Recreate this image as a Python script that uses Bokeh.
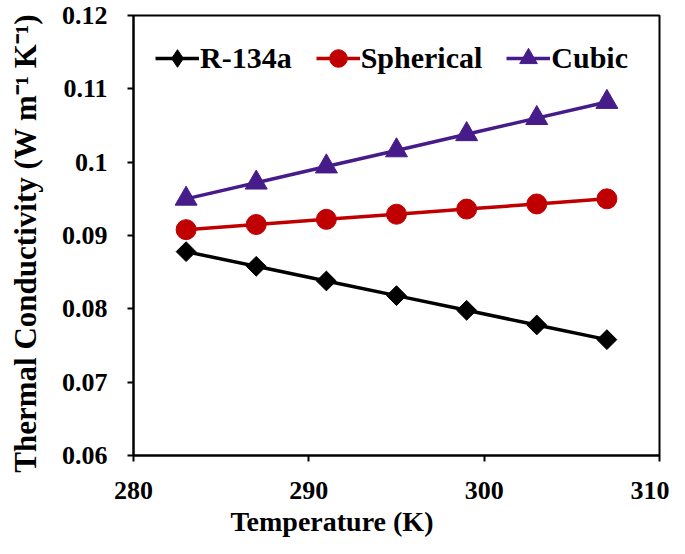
from bokeh.plotting import figure
from bokeh.models import Range1d, FixedTicker, Legend, LegendItem, Title
from bokeh.embed import file_html
from bokeh.resources import INLINE
import math

# ---- data ----
temperature = [283, 287, 291, 295, 299, 303, 307]
r134a = [0.0878, 0.0858, 0.0838, 0.0818, 0.0798, 0.0778, 0.0758]
spherical = [0.0908, 0.0915, 0.0922, 0.0929, 0.0936, 0.0943, 0.0950]
cubic = [0.0950, 0.0972, 0.0994, 0.1016, 0.1038, 0.1060, 0.1082]
series_names = ["R-134a", "Spherical", "Cubic"]
x_ticks = [280, 290, 300, 310]
y_ticks = [0.06, 0.07, 0.08, 0.09, 0.1, 0.11, 0.12]
y_tick_labels = ["0.06", "0.07", "0.08", "0.09", "0.1", "0.11", "0.12"]
x_title = "Temperature  (K)"
y_title = "Thermal  Conductivity  (W m\u207b\u00b9 K\u207b\u00b9)"

FONT = "Liberation Serif"
BLACK = "#000000"
RED = "#C00000"
PURPLE = "#461C8A"

p = figure(width=669, height=538, output_backend="svg", toolbar_location=None,
           x_range=Range1d(280, 310), y_range=Range1d(0.06, 0.12),
           min_border_left=133, min_border_right=10, min_border_top=15, min_border_bottom=83)
p.xgrid.visible = False
p.ygrid.visible = False
p.outline_line_color = "black"
p.outline_line_width = 2
p.background_fill_color = "white"
p.border_fill_color = "white"

for ax in (p.xaxis[0], p.yaxis[0]):
    ax.axis_line_width = 2
    ax.axis_line_color = "black"
    ax.major_tick_line_width = 2
    ax.major_tick_in = 0
    ax.major_tick_out = 6
    ax.minor_tick_line_color = None
    ax.major_label_text_font = FONT
    ax.major_label_text_font_style = "bold"
    ax.major_label_text_font_size = "26px"
    ax.major_label_text_color = "black"
    ax.axis_label_text_font = FONT
    ax.axis_label_text_font_style = "bold"
    ax.axis_label_text_font_size = "31px"
    ax.axis_label_text_color = "black"

p.xaxis.ticker = FixedTicker(ticks=x_ticks)
p.yaxis.ticker = FixedTicker(ticks=y_ticks)
p.yaxis.major_label_overrides = dict(zip(y_ticks, y_tick_labels))
p.xaxis.major_label_standoff = 20
p.yaxis.major_label_standoff = 20
p.yaxis.axis_label = y_title
p.yaxis.axis_label_standoff = 16

xt = Title(text=x_title, align="left", offset=97, text_font=FONT, text_font_style="bold",
           text_font_size="28px", text_color="black", standoff=4)
p.add_layout(xt, "below")

l1 = p.line(temperature, r134a, line_color=BLACK, line_width=3.5)
# diamond marker (used for the legend swatch), covered by the rotated squares on the plot
d1 = p.scatter(temperature, r134a, marker="diamond", size=16, fill_color=BLACK, line_color=BLACK)
m1 = p.scatter(temperature, r134a, marker="square", angle=math.pi / 4, size=14,
               fill_color=BLACK, line_color=BLACK)
l2 = p.line(temperature, spherical, line_color=RED, line_width=3.5)
m2 = p.scatter(temperature, spherical, marker="circle", size=20, fill_color=RED, line_color=RED)
l3 = p.line(temperature, cubic, line_color=PURPLE, line_width=3.5)
m3 = p.scatter(temperature, cubic, marker="triangle", size=22, fill_color=PURPLE, line_color=PURPLE)

legend = Legend(items=[LegendItem(label=series_names[0], renderers=[l1, d1]),
                       LegendItem(label=series_names[1], renderers=[l2, m2]),
                       LegendItem(label=series_names[2], renderers=[l3, m3])],
                orientation="horizontal", location=(22, 375))
legend.label_text_font = FONT
legend.label_text_font_style = "bold"
legend.label_text_font_size = "30px"
legend.label_text_color = "black"
legend.glyph_width = 44
legend.glyph_height = 44
legend.label_standoff = 1
legend.spacing = 24
legend.padding = 0
legend.margin = 0
legend.border_line_color = None
legend.background_fill_alpha = 0
p.add_layout(legend)

open("out.html", "w").write(file_html(p, INLINE))
